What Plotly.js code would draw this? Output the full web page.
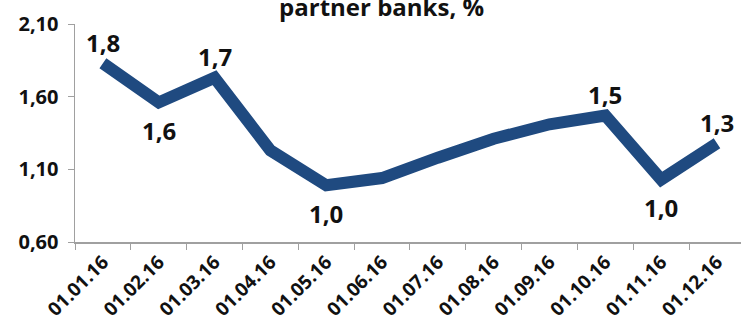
<!DOCTYPE html>
<html>
<head>
<meta charset="utf-8">
<script src="https://cdn.plot.ly/plotly-3.0.1.min.js"></script>
<style>html,body{margin:0;padding:0;overflow:hidden;background:#fff;}</style>
</head>
<body>
<div id="chart" style="width:741px;height:321px;"></div>
<script>
const categories = ["01.01.16","01.02.16","01.03.16","01.04.16","01.05.16","01.06.16","01.07.16","01.08.16","01.09.16","01.10.16","01.11.16","01.12.16"];
const values = [1.83, 1.56, 1.73, 1.23, 0.99, 1.04, 1.18, 1.31, 1.41, 1.47, 1.03, 1.28];
const labelIndex = [0, 1, 2, 4, 9, 10, 11];
const labelText = ["1,8", "1,6", "1,7", "1,0", "1,5", "1,0", "1,3"];
const labelSide = ["above", "below", "above", "below", "above", "below", "above"];
const yTickVals = [0.6, 1.1, 1.6, 2.1];
const yTickText = ["0,60", "1,10", "1,60", "2,10"];

const fontFam = "Open Sans, Liberation Sans, sans-serif";

const annotations = labelIndex.map((idx, k) => ({
  x: categories[idx], y: values[idx], xref: "x", yref: "y",
  text: labelText[k], showarrow: false,
  yshift: labelSide[k] === "above" ? 21 : -28,
  font: {family: fontFam, size: 24, color: "#111", weight: "bold"}
}));

const trace = {
  x: categories, y: values, type: "scatter", mode: "lines",
  line: {color: "#1f4a80", width: 12},
  hoverinfo: "none"
};

const layout = {
  width: 741, height: 321,
  margin: {l: 75, r: 0, t: 24, b: 79},
  paper_bgcolor: "#fff", plot_bgcolor: "#fff",
  showlegend: false,
  title: {text: "partner banks, %", x: 0.515, xanchor: "center", y: 0.976, yanchor: "middle",
          font: {family: fontFam, size: 24, color: "#111", weight: "bold"}},
  xaxis: {
    type: "category", range: [-0.5, 11.43],
    tickson: "boundaries", ticks: "outside", ticklen: 6, tickcolor: "#a0a0a0", tickwidth: 1,
    showline: true, linecolor: "#a0a0a0", linewidth: 1.5,
    showgrid: false, zeroline: false, tickangle: -45,
    tickfont: {family: fontFam, size: 19, color: "#111", weight: "bold"}
  },
  yaxis: {
    range: [0.6, 2.1], tickvals: yTickVals, ticktext: yTickText,
    ticks: "outside", ticklen: 6, tickcolor: "#a0a0a0",
    showline: true, linecolor: "#a0a0a0", linewidth: 1.5,
    showgrid: false, zeroline: false, ticklabelstandoff: 5,
    tickfont: {family: fontFam, size: 20, color: "#111", weight: "bold"}
  },
  annotations: annotations
};

Plotly.newPlot("chart", [trace], layout, {displayModeBar: false, staticPlot: true});
</script>
</body>
</html>
